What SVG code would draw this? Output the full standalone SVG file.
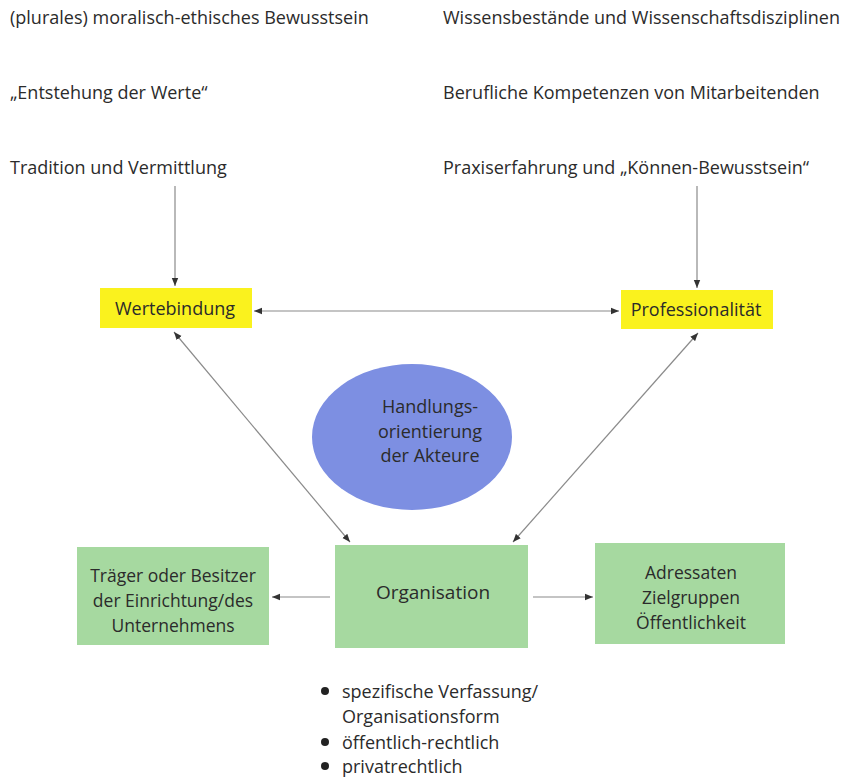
<svg xmlns="http://www.w3.org/2000/svg" width="847" height="780" viewBox="0 0 847 780">
<defs>
<marker id="ah" viewBox="0 0 10 10" refX="10" refY="5" markerWidth="8" markerHeight="8" orient="auto-start-reverse" markerUnits="userSpaceOnUse">
<path d="M0,1 L10,5 L0,9 Z" fill="#333"/>
</marker>
<style>
text{font-family:"Open Sans","Noto Sans",sans-serif;font-size:18px;fill:#2b2b2b}
.c{text-anchor:middle}
.m{font-size:17.5px}
.ln{stroke:#8a8a8a;stroke-width:1.2;fill:none}
.y{fill:#faf21e}
.g{fill:#a6d9a0}
</style>
</defs>
<rect width="847" height="780" fill="#fff"/>
<g id="labels">
<text x="10" y="24">(plurales) moralisch-ethisches Bewusstsein</text>
<text x="10" y="99">„Entstehung der Werte“</text>
<text x="10" y="174">Tradition und Vermittlung</text>
<text x="443" y="24">Wissensbestände und Wissenschaftsdisziplinen</text>
<text x="443" y="99">Berufliche Kompetenzen von Mitarbeitenden</text>
<text x="443" y="174">Praxiserfahrung und „Können-Bewusstsein“</text>
</g>
<g id="connectors">
<line class="ln" x1="175" y1="186" x2="175" y2="286" marker-end="url(#ah)"/>
<line class="ln" x1="697" y1="186" x2="697" y2="288" marker-end="url(#ah)"/>
<line class="ln" x1="254" y1="311" x2="619" y2="311" marker-start="url(#ah)" marker-end="url(#ah)"/>
<line class="ln" x1="174" y1="332" x2="350" y2="542" marker-start="url(#ah)" marker-end="url(#ah)"/>
<line class="ln" x1="698" y1="333" x2="513" y2="542" marker-start="url(#ah)" marker-end="url(#ah)"/>
<line class="ln" x1="330" y1="597" x2="272" y2="597" marker-end="url(#ah)"/>
<line class="ln" x1="533" y1="597" x2="593" y2="597" marker-end="url(#ah)"/>
</g>
<g id="wertebindung">
<rect class="y" x="100" y="288" width="152" height="40"/>
<text class="c" x="175" y="315">Wertebindung</text>
</g>
<g id="professionalitaet">
<rect class="y" x="621" y="290" width="152" height="39"/>
<text class="c" x="696" y="316">Professionalität</text>
</g>
<g id="handlung">
<ellipse cx="412" cy="437" rx="100" ry="73" fill="#7d8fe2"/>
<text class="c" x="430" y="413">Handlungs-</text>
<text class="c" x="430" y="438">orientierung</text>
<text class="c" x="430" y="462">der Akteure</text>
</g>
<g id="traeger">
<rect class="g" x="77" y="547" width="192" height="98"/>
<text class="c m" x="173" y="582">Träger oder Besitzer</text>
<text class="c m" x="173" y="607">der Einrichtung/des</text>
<text class="c m" x="173" y="632">Unternehmens</text>
</g>
<g id="organisation">
<rect class="g" x="335" y="545" width="193" height="103"/>
<text class="c" x="433" y="599" style="font-size:19px">Organisation</text>
</g>
<g id="adressaten">
<rect class="g" x="595" y="543" width="190" height="101"/>
<text class="c m" x="691" y="579">Adressaten</text>
<text class="c m" x="691" y="604">Zielgruppen</text>
<text class="c m" x="691" y="629">Öffentlichkeit</text>
</g>
<g id="bullets">
<circle cx="325" cy="691" r="4" fill="#222"/>
<text x="342" y="698">spezifische Verfassung/</text>
<text x="342" y="723">Organisationsform</text>
<circle cx="325" cy="742" r="4" fill="#222"/>
<text x="342" y="749">öffentlich-rechtlich</text>
<circle cx="325" cy="766" r="4" fill="#222"/>
<text x="342" y="773">privatrechtlich</text>
</g>
</svg>
